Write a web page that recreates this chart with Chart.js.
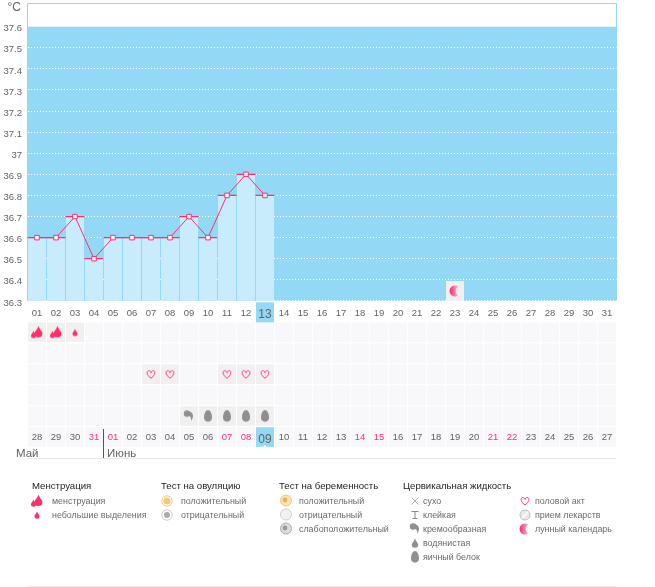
<!DOCTYPE html>
<html><head><meta charset="utf-8">
<style>html,body{margin:0;padding:0;background:#fff}canvas{display:block}</style>
<script src="https://cdn.jsdelivr.net/npm/chart.js@4"></script></head>
<body><canvas id="c" width="655" height="587"></canvas>
<script>
// ---- data ----
const cycleDays = ['01','02','03','04','05','06','07','08','09','10','11','12','13','14','15','16','17','18','19','20','21','22','23','24','25','26','27','28','29','30','31'];
const calendarDates = ['28','29','30','31','01','02','03','04','05','06','07','08','09','10','11','12','13','14','15','16','17','18','19','20','21','22','23','24','25','26','27'];
const weekendIndexes = [3,4,10,11,17,18,24,25];
const temperatures = [36.6,36.6,36.7,36.5,36.6,36.6,36.6,36.6,36.7,36.6,36.8,36.9,36.8];
const tempTicks = [36.3,36.4,36.5,36.6,36.7,36.8,36.9,37,37.1,37.2,37.3,37.4,37.5,37.6];
const tempTickLabels = ['36.3','36.4','36.5','36.6','36.7','36.8','36.9','37','37.1','37.2','37.3','37.4','37.5','37.6'];
const unitLabel = '°C';
const rowNames = ['Дни','Менструация','Тесты','Половой акт','Лекарства','Жидкость','Даты'];
const currentDay = '13';
const currentDate = 12;
const menstruationDays = ['01','02'];
const lightDays = ['03'];
const heartDays = ['07','08','11','12','13'];
const creamyDays = ['09'];
const eggDays = ['10','11','12','13'];
const moonDays = ['23'];
const moonTemp = 36.347;
const months = ['Май','Июнь'];
const legendHeads = ['Менструация','Тест на овуляцию','Тест на беременность','Цервикальная жидкость'];
const legendMens = ['менструация','небольшие выделения'];
const legendOvul = ['положительный','отрицательный'];
const legendPreg = ['положительный','отрицательный','слабоположительный'];
const legendFluid = ['сухо','клейкая','кремообразная','водянистая','яичный белок'];
const legendOther = ['половой акт','прием лекарств','лунный календарь'];

// ---- style ----
const SKY='#93d9f6', BAR='#c9ecfd', PINK='#ff2f6e', TXT='#626262', CELL='#f8f7f9', CELLON='#f0f0f1', GREY='#8f8f8f';
const FONT='"Liberation Sans", Arial, sans-serif';

function icon(draw,w=18,h=18){const c=document.createElement('canvas');c.width=w;c.height=h;const g=c.getContext('2d');draw(g,w,h);return c;}
function drop(g,x,y,h,col){const w=h*0.36;g.fillStyle=col;g.beginPath();g.moveTo(x,y-h/2);
  g.bezierCurveTo(x+w*0.3,y-h*0.15,x+w,y,x+w,y+h*0.18);g.arc(x,y+h*0.18,w,0,Math.PI);
  g.bezierCurveTo(x-w,y,x-w*0.3,y-h*0.15,x,y-h/2);g.fill();}
const icons={
 mens:icon(g=>{drop(g,10.5,8,11,PINK);drop(g,5.5,11,7,PINK);}),
 light:icon(g=>drop(g,9,9,7,PINK)),
 heart:icon(g=>{g.strokeStyle=PINK;g.lineWidth=1;g.beginPath();g.moveTo(9,13);
   g.bezierCurveTo(4,9.5,4.5,5.5,6.7,5.5);g.bezierCurveTo(8,5.5,9,6.5,9,7.5);g.bezierCurveTo(9,6.5,10,5.5,11.3,5.5);g.bezierCurveTo(13.5,5.5,14,9.5,9,13);g.stroke();}),
 creamy:icon(g=>{g.fillStyle=GREY;g.beginPath();g.arc(7,6.5,3.2,0,7);g.fill();g.beginPath();g.moveTo(6,4);
   g.bezierCurveTo(13,3,15,9,11,14);g.bezierCurveTo(12,9,9,8.5,6,8.5);g.fill();}),
 egg:icon(g=>{g.fillStyle=GREY;g.beginPath();g.moveTo(9,3);g.bezierCurveTo(12,3,13,8,13,10);g.bezierCurveTo(13,13.5,11,14.5,9,14.5);g.bezierCurveTo(7,14.5,5,13.5,5,10);g.bezierCurveTo(5,8,6,3,9,3);g.fill();}),
 moon:icon(g=>{const l=g.createLinearGradient(4,0,13,0);l.addColorStop(0,'#ff2f6e');l.addColorStop(1,'#ffc0d2');g.fillStyle=l;g.beginPath();g.arc(9,9,5.5,Math.PI*0.3,Math.PI*1.7);g.bezierCurveTo(9,6,9,12,12.2,13.4);g.fill();}),
 dry:icon(g=>{g.strokeStyle='#999';g.lineWidth=.8;g.beginPath();g.moveTo(5.5,5.5);g.lineTo(12.5,12.5);g.moveTo(12.5,5.5);g.lineTo(5.5,12.5);g.stroke();}),
 sticky:icon(g=>{g.strokeStyle='#888';g.lineWidth=1;g.beginPath();g.moveTo(5.5,5.5);g.lineTo(12.5,5.5);g.moveTo(9,5.5);g.lineTo(9,12.5);g.moveTo(6.5,12.5);g.lineTo(11.5,12.5);g.stroke();}),
 water:icon(g=>drop(g,9,9,9,GREY)),
 ovPos:icon(g=>{g.strokeStyle='#f4c977';g.lineWidth=1;g.beginPath();g.arc(9,9,5.2,0,7);g.stroke();g.fillStyle='#f5c87a';g.beginPath();g.arc(9,9,3.6,0,7);g.fill();}),
 ovNeg:icon(g=>{g.strokeStyle='#ccc';g.lineWidth=1;g.beginPath();g.arc(9,9,5.2,0,7);g.stroke();g.fillStyle='#aaa';g.beginPath();g.arc(9,9,3,0,7);g.fill();}),
 prPos:icon(g=>{g.strokeStyle='#f0c67a';g.fillStyle='#fbe3b4';g.beginPath();g.arc(9,8.5,5.5,0,7);g.fill();g.stroke();g.fillStyle='#e9b35c';g.beginPath();g.arc(8,8,2.4,0,7);g.fill();}),
 prNeg:icon(g=>{g.strokeStyle='#ccc';g.fillStyle='#f2f2f2';g.beginPath();g.arc(9,8.5,5.5,0,7);g.fill();g.stroke();}),
 prWeak:icon(g=>{g.strokeStyle='#aaa';g.fillStyle='#ddd';g.beginPath();g.arc(9,8.5,5.5,0,7);g.fill();g.stroke();g.fillStyle='#999';g.beginPath();g.arc(8,8,2.4,0,7);g.fill();}),
 pill:icon(g=>{g.strokeStyle='#bbb';g.fillStyle='#e9e9ec';g.beginPath();g.arc(9,9,5,0,7);g.fill();g.stroke();g.strokeStyle='#fff';g.lineWidth=1.2;g.beginPath();g.moveTo(6,12);g.lineTo(12,6);g.stroke();})
};
const moonCell=icon((g,w,h)=>{g.fillStyle=CELLON;g.fillRect(0,0,w,h);g.drawImage(icons.moon,0,1);},18,20);

const points=(days,row)=>days.map(d=>({x:d,y:row}));
const iconSet=(days,row,img)=>({type:'line',showLine:false,yAxisID:'rows',data:points(days,row),pointStyle:img,pointRadius:9,pointHoverRadius:9,order:0});

const stagePlugin={id:'stage',
 beforeDraw(ch){
  const {ctx,scales:{x,y,rows}}=ch;
  ctx.save();
  ctx.fillStyle='#fff';ctx.fillRect(0,0,655,587);
  const top=y.getPixelForValue(37.6),bot=y.getPixelForValue(36.3);
  ctx.fillStyle=SKY;ctx.fillRect(x.left,top,x.width,bot-top);
  ctx.strokeStyle=SKY;ctx.lineWidth=1;ctx.beginPath();
  ctx.moveTo(x.left,bot);ctx.lineTo(x.left,3.5);ctx.lineTo(x.right,3.5);ctx.lineTo(x.right,bot);ctx.stroke();
  // calendar cells
  const marks={1:[...menstruationDays,...lightDays],3:heartDays,5:[...creamyDays,...eggDays]};
  for(let r=1;r<rowNames.length;r++){
    const cy=rows.getPixelForValue(r);
    for(let i=0;i<cycleDays.length;i++){
      const cx=x.getPixelForValue(i);
      const on=marks[r]&&marks[r].includes(cycleDays[i]);
      const today=r===rowNames.length-1&&i===currentDate;
      ctx.fillStyle=today?SKY:on?CELLON:CELL;
      ctx.fillRect(cx-9,cy-9.8,18,19.6);
    }
  }
  const dx=x.getPixelForValue(cycleDays.indexOf(currentDay)),dy=rows.getPixelForValue(0);
  ctx.fillStyle=SKY;ctx.fillRect(dx-9,dy-9,18,20);
  ctx.restore();
 },
 afterDraw(ch){
  const {ctx,scales:{x,rows}}=ch;
  ctx.save();
  // unit label
  ctx.font='12px '+FONT;ctx.fillStyle=TXT;ctx.textBaseline='middle';ctx.textAlign='right';
  ctx.fillText(unitLabel,21,7.5);
  ctx.textAlign='left';
  // current-date notch
  const nx=x.getPixelForValue(currentDate),ny=rows.bottom-.5;
  ctx.fillStyle='#fff';ctx.beginPath();ctx.moveTo(nx-2,ny);ctx.lineTo(nx+2,ny);ctx.lineTo(nx,ny-2);ctx.fill();
  // months
  const split=(x.getPixelForValue(3)+x.getPixelForValue(4))/2;
  ctx.strokeStyle='#555';ctx.lineWidth=1;ctx.beginPath();ctx.moveTo(Math.round(split)-.5,429);ctx.lineTo(Math.round(split)-.5,458);ctx.stroke();
  ctx.font='11.5px '+FONT;ctx.fillStyle=TXT;
  ctx.fillText(months[0],16,453.5);ctx.fillText(months[1],107,453.5);
  ctx.strokeStyle='#e8e8e8';
  ctx.beginPath();ctx.moveTo(x.left,458.5);ctx.lineTo(x.right,458.5);ctx.moveTo(x.left,586.5);ctx.lineTo(x.right,586.5);ctx.stroke();
  // legend
  const col=(ix,tx,labels,imgs)=>labels.forEach((t,i)=>{const yy=501+i*14;
    ctx.drawImage(imgs[i],ix-9,yy-9);ctx.font='8.9px '+FONT;ctx.fillStyle='#6a6a6a';ctx.fillText(t,tx,yy+.5);});
  ctx.font='9.6px '+FONT;ctx.fillStyle='#222';
  [32,161,279,403].forEach((hx,i)=>ctx.fillText(legendHeads[i],hx,486.5));
  col(37,52,legendMens,[icons.mens,icons.light]);
  col(167,181,legendOvul,[icons.ovPos,icons.ovNeg]);
  col(286,299,legendPreg,[icons.prPos,icons.prNeg,icons.prWeak]);
  col(415,423,legendFluid,[icons.dry,icons.sticky,icons.creamy,icons.water,icons.egg]);
  col(525,535,legendOther,[icons.heart,icons.pill,icons.moon]);
  ctx.restore();
 }
};
const noPad=s=>{s.paddingTop=0;s.paddingBottom=0;s.paddingLeft=0;s.paddingRight=0;};

new Chart(document.getElementById('c'),{
 type:'bar',
 plugins:[stagePlugin],
 data:{labels:cycleDays,datasets:[
  {type:'line',data:temperatures,borderColor:PINK,borderWidth:1,tension:0,pointStyle:'rect',pointRadius:3.2,pointHoverRadius:3.2,pointBorderWidth:1,pointBackgroundColor:'#fff',pointBorderColor:PINK,yAxisID:'y',order:1},
  {type:'line',showLine:false,data:temperatures,pointStyle:'line',pointRadius:9.5,pointHoverRadius:9.5,pointBorderWidth:1.2,pointBorderColor:PINK,yAxisID:'y',order:2},
  {type:'bar',data:temperatures,backgroundColor:BAR,barPercentage:1,categoryPercentage:18/19,yAxisID:'y',order:3},
  {type:'line',showLine:false,data:moonDays.map(d=>({x:d,y:moonTemp})),pointStyle:moonCell,pointRadius:9,yAxisID:'y',order:2},
  iconSet(menstruationDays,rowNames[1],icons.mens),
  iconSet(lightDays,rowNames[1],icons.light),
  iconSet(heartDays,rowNames[3],icons.heart),
  iconSet(creamyDays,rowNames[5],icons.creamy),
  iconSet(eggDays,rowNames[5],icons.egg)
 ]},
 options:{
  responsive:false,animation:false,devicePixelRatio:1,
  events:[],
  layout:{padding:{left:0,right:38.5,top:3,bottom:139.5}},
  plugins:{legend:{display:false},tooltip:{enabled:false}},
  scales:{
   x:{type:'category',labels:cycleDays,position:{y:36.3},offset:true,
      afterFit:noPad,
      grid:{display:false,tickLength:0,drawTicks:false},border:{display:false},
      ticks:{autoSkip:false,maxRotation:0,minRotation:0,padding:7,color:TXT,
        font:c=>({family:FONT,size:c.tick&&c.tick.label===currentDay?12:9.5})}},
   xLow:{type:'category',axis:'x',labels:calendarDates,position:{rows:6},offset:true,
      afterFit:noPad,
      grid:{display:false,tickLength:0,drawTicks:false},border:{display:false},
      ticks:{autoSkip:false,maxRotation:0,minRotation:0,padding:-5,
        color:c=>weekendIndexes.includes(c.index)?PINK:TXT,
        font:c=>({family:FONT,size:c.index===currentDate?12:9.5})}},
   y:{type:'linear',position:'left',stack:'main',stackWeight:290,weight:2,min:36.3,max:37.676,
      afterFit(s){s.width=27.5;noPad(s);},
      afterBuildTicks(s){s.ticks=tempTicks.map(v=>({value:v}));},
      grid:{color:c=>c.tick&&c.tick.value<37.55?'#fff':'rgba(0,0,0,0)',lineWidth:1,tickLength:0,drawTicks:false},
      border:{display:false,dash:[1,2]},
      ticks:{padding:5.5,labelOffset:2,color:TXT,autoSkip:false,
        font:{family:FONT,size:9.5},
        callback:(v)=>tempTickLabels[tempTicks.indexOf(v)]}},
   rows:{type:'category',axis:'y',labels:rowNames,position:'left',stack:'main',stackWeight:146.5,weight:1,offset:true,
      afterFit(s){s.width=27.5;noPad(s);},
      grid:{display:false},border:{display:false},ticks:{display:false}}
  }
 }
});
</script></body></html>
